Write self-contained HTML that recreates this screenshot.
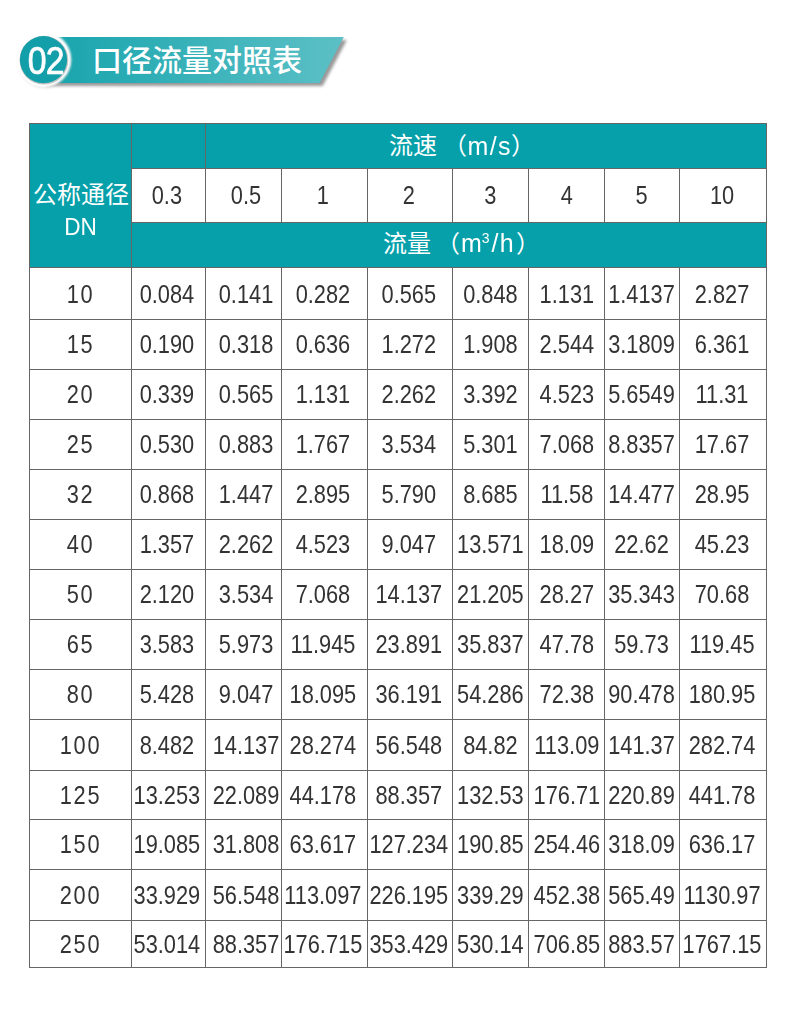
<!DOCTYPE html>
<html lang="zh"><head><meta charset="utf-8"><title>DN flow table</title>
<style>
html,body{margin:0;padding:0;background:#fff}
body{position:relative;width:790px;height:1025px;overflow:hidden;font-family:"Liberation Sans",sans-serif;color:#333}
.banner{position:absolute;left:0;top:0;width:400px;height:110px}
.banner svg.bg{position:absolute;left:0;top:0}
.num{position:absolute;left:22.7px;top:37.1px;width:46px;height:47px;line-height:47px;text-align:center;color:#fff;font-size:39px;letter-spacing:-1px}
.num span{display:inline-block;transform:scaleX(.865);-webkit-text-stroke:.7px #fff}
h1{margin:0;position:absolute;left:91.7px;top:45.2px;height:30px;line-height:0;font-size:0}
h1 svg{display:block}
table{position:absolute;left:29px;top:123px;border-collapse:collapse;table-layout:fixed;width:738px}
td,th{position:relative;border:1px solid #666;padding:0;text-align:center;vertical-align:middle;font-weight:normal;font-size:21.8px;line-height:24px;white-space:nowrap;overflow:visible}
td span,th span.n{display:inline-block;transform:scaleY(1.16);position:relative;top:.5px}
tr.r1 td span{top:1.4px}
tr.spd th span.n{top:.4px}
th.t{background:#05a0aa;color:#fff}
th svg,th .a{position:absolute;display:block}
th .a{line-height:30px;height:30px;white-space:nowrap}
.lat{font-size:25px;letter-spacing:1.4px;transform:scaleY(1.03)}
.lat sup{font-size:14px;line-height:0;vertical-align:9px;letter-spacing:0;margin:0 2px 0 -1.6px}
.dnl{font-size:22.6px;letter-spacing:0;transform:scaleY(1.08)}
svg text{font-family:"Liberation Sans","Noto Sans CJK SC",sans-serif}
.c0 span{left:-0.9px}
.c1 span{left:-1.6px}
.c2 span{left:2.5px}
.c3 span{left:-1.6px}
.c4 span{left:-1.2px}
.c5 span{left:-0.1px}
.c6 span{left:0.4px}
.c7 span{left:-0.5px}
.c8 span{left:-1.0px}
td.c0 span{letter-spacing:1.7px;left:0px}
</style></head>
<body>
<div class="banner">
<svg class="bg" width="400" height="110" viewBox="0 0 400 110">
<defs>
<linearGradient id="g" x1="0" y1="0" x2="1" y2="0"><stop offset="0" stop-color="#17a4ad"/><stop offset="1" stop-color="#5cc0c6"/></linearGradient>
<filter id="sh" x="-10%" y="-30%" width="120%" height="170%"><feGaussianBlur stdDeviation="1.6"/></filter>
<filter id="sh2" x="-30%" y="-30%" width="160%" height="160%"><feGaussianBlur stdDeviation="1.5"/></filter>
<filter id="sh4" x="-30%" y="-30%" width="160%" height="160%"><feGaussianBlur stdDeviation="0.5"/></filter>
<filter id="sh3" x="-30%" y="-30%" width="160%" height="160%"><feGaussianBlur stdDeviation="0.9"/></filter>
</defs>
<polygon points="46,40 346.8,40 322.6,86 46,86" fill="#444" opacity=".55" filter="url(#sh)"/>
<polygon points="44,37 343.8,37 319.6,83 44,83" fill="url(#g)"/>
<circle cx="44.4" cy="61.2" r="26.2" fill="#444" opacity=".3" filter="url(#sh2)"/>
<circle cx="43.5" cy="59.7" r="27.8" fill="#fff" filter="url(#sh3)"/>
<circle cx="43.9" cy="60.2" r="24.4" fill="#888" opacity=".5" filter="url(#sh4)"/>
<circle cx="43.5" cy="59.7" r="23.6" fill="#129fa9"/>
</svg>
<div class="num"><span>02</span></div>
<h1><svg width="210" height="30" viewBox="0 0 210 30" role="img" aria-label="口径流量对照表"><text x="0" y="26.4" font-size="30" font-weight="500" fill="#fff">口径流量对照表</text></svg></h1>
</div>
<table>
<colgroup><col style="width:102px"><col style="width:74px"><col style="width:76px"><col style="width:86px"><col style="width:85px"><col style="width:76px"><col style="width:76px"><col style="width:75px"><col style="width:87px"></colgroup>
<thead>
<tr style="height:45px"><th class="t dn" rowspan="3"><svg style="left:2.6px;top:57.9px" width="96" height="24" viewBox="0 0 96 24" role="img" aria-label="公称通径"><text x="0" y="21.1" font-size="24" fill="#fff">公称通径</text></svg><span class="a dnl" style="left:0px;top:88px;width:101px;text-align:center">DN</span></th><th class="t"></th><th class="t sp" colspan="7"><svg style="left:183px;top:9.3px" width="48" height="24" viewBox="0 0 48 24" role="img" aria-label="流速"><text x="0" y="21.1" font-size="24" fill="#fff">流速</text></svg><svg style="left:236.8px;top:9.3px" width="24" height="24" viewBox="0 0 24 24" role="img" aria-label="（"><text x="0" y="21.1" font-size="24" fill="#fff">（</text></svg><span class="a lat" style="left:261.5px;top:6.5px">m/s</span><svg style="left:305px;top:9.3px" width="24" height="24" viewBox="0 0 24 24" role="img" aria-label="）"><text x="0" y="21.1" font-size="24" fill="#fff">）</text></svg></th></tr>
<tr class="spd" style="height:54px"><th class="c1"><span class="n">0.3</span></th><th class="c2"><span class="n">0.5</span></th><th class="c3"><span class="n">1</span></th><th class="c4"><span class="n">2</span></th><th class="c5"><span class="n">3</span></th><th class="c6"><span class="n">4</span></th><th class="c7"><span class="n">5</span></th><th class="c8"><span class="n">10</span></th></tr>
<tr style="height:45px"><th class="t fl" colspan="8"><svg style="left:250.9px;top:7.8px" width="48" height="24" viewBox="0 0 48 24" role="img" aria-label="流量"><text x="0" y="21.1" font-size="24" fill="#fff">流量</text></svg><svg style="left:304.3px;top:7.8px" width="24" height="24" viewBox="0 0 24 24" role="img" aria-label="（"><text x="0" y="21.1" font-size="24" fill="#fff">（</text></svg><span class="a lat" style="left:329px;top:5px">m<sup>3</sup>/h</span><svg style="left:383.5px;top:7.8px" width="24" height="24" viewBox="0 0 24 24" role="img" aria-label="）"><text x="0" y="21.1" font-size="24" fill="#fff">）</text></svg></th></tr>
</thead>
<tbody>
<tr class="r1" style="height:52px"><td class="c0"><span>10</span></td><td class="c1"><span>0.084</span></td><td class="c2"><span>0.141</span></td><td class="c3"><span>0.282</span></td><td class="c4"><span>0.565</span></td><td class="c5"><span>0.848</span></td><td class="c6"><span>1.131</span></td><td class="c7"><span>1.4137</span></td><td class="c8"><span>2.827</span></td></tr>
<tr style="height:50px"><td class="c0"><span>15</span></td><td class="c1"><span>0.190</span></td><td class="c2"><span>0.318</span></td><td class="c3"><span>0.636</span></td><td class="c4"><span>1.272</span></td><td class="c5"><span>1.908</span></td><td class="c6"><span>2.544</span></td><td class="c7"><span>3.1809</span></td><td class="c8"><span>6.361</span></td></tr>
<tr style="height:50px"><td class="c0"><span>20</span></td><td class="c1"><span>0.339</span></td><td class="c2"><span>0.565</span></td><td class="c3"><span>1.131</span></td><td class="c4"><span>2.262</span></td><td class="c5"><span>3.392</span></td><td class="c6"><span>4.523</span></td><td class="c7"><span>5.6549</span></td><td class="c8"><span>11.31</span></td></tr>
<tr style="height:50px"><td class="c0"><span>25</span></td><td class="c1"><span>0.530</span></td><td class="c2"><span>0.883</span></td><td class="c3"><span>1.767</span></td><td class="c4"><span>3.534</span></td><td class="c5"><span>5.301</span></td><td class="c6"><span>7.068</span></td><td class="c7"><span>8.8357</span></td><td class="c8"><span>17.67</span></td></tr>
<tr style="height:50px"><td class="c0"><span>32</span></td><td class="c1"><span>0.868</span></td><td class="c2"><span>1.447</span></td><td class="c3"><span>2.895</span></td><td class="c4"><span>5.790</span></td><td class="c5"><span>8.685</span></td><td class="c6"><span>11.58</span></td><td class="c7"><span>14.477</span></td><td class="c8"><span>28.95</span></td></tr>
<tr style="height:50px"><td class="c0"><span>40</span></td><td class="c1"><span>1.357</span></td><td class="c2"><span>2.262</span></td><td class="c3"><span>4.523</span></td><td class="c4"><span>9.047</span></td><td class="c5"><span>13.571</span></td><td class="c6"><span>18.09</span></td><td class="c7"><span>22.62</span></td><td class="c8"><span>45.23</span></td></tr>
<tr style="height:50px"><td class="c0"><span>50</span></td><td class="c1"><span>2.120</span></td><td class="c2"><span>3.534</span></td><td class="c3"><span>7.068</span></td><td class="c4"><span>14.137</span></td><td class="c5"><span>21.205</span></td><td class="c6"><span>28.27</span></td><td class="c7"><span>35.343</span></td><td class="c8"><span>70.68</span></td></tr>
<tr style="height:50px"><td class="c0"><span>65</span></td><td class="c1"><span>3.583</span></td><td class="c2"><span>5.973</span></td><td class="c3"><span>11.945</span></td><td class="c4"><span>23.891</span></td><td class="c5"><span>35.837</span></td><td class="c6"><span>47.78</span></td><td class="c7"><span>59.73</span></td><td class="c8"><span>119.45</span></td></tr>
<tr style="height:50px"><td class="c0"><span>80</span></td><td class="c1"><span>5.428</span></td><td class="c2"><span>9.047</span></td><td class="c3"><span>18.095</span></td><td class="c4"><span>36.191</span></td><td class="c5"><span>54.286</span></td><td class="c6"><span>72.38</span></td><td class="c7"><span>90.478</span></td><td class="c8"><span>180.95</span></td></tr>
<tr style="height:51px"><td class="c0"><span>100</span></td><td class="c1"><span>8.482</span></td><td class="c2"><span>14.137</span></td><td class="c3"><span>28.274</span></td><td class="c4"><span>56.548</span></td><td class="c5"><span>84.82</span></td><td class="c6"><span>113.09</span></td><td class="c7"><span>141.37</span></td><td class="c8"><span>282.74</span></td></tr>
<tr style="height:49px"><td class="c0"><span>125</span></td><td class="c1"><span>13.253</span></td><td class="c2"><span>22.089</span></td><td class="c3"><span>44.178</span></td><td class="c4"><span>88.357</span></td><td class="c5"><span>132.53</span></td><td class="c6"><span>176.71</span></td><td class="c7"><span>220.89</span></td><td class="c8"><span>441.78</span></td></tr>
<tr style="height:50px"><td class="c0"><span>150</span></td><td class="c1"><span>19.085</span></td><td class="c2"><span>31.808</span></td><td class="c3"><span>63.617</span></td><td class="c4"><span>127.234</span></td><td class="c5"><span>190.85</span></td><td class="c6"><span>254.46</span></td><td class="c7"><span>318.09</span></td><td class="c8"><span>636.17</span></td></tr>
<tr style="height:51px"><td class="c0"><span>200</span></td><td class="c1"><span>33.929</span></td><td class="c2"><span>56.548</span></td><td class="c3"><span>113.097</span></td><td class="c4"><span>226.195</span></td><td class="c5"><span>339.29</span></td><td class="c6"><span>452.38</span></td><td class="c7"><span>565.49</span></td><td class="c8"><span>1130.97</span></td></tr>
<tr style="height:47px"><td class="c0"><span>250</span></td><td class="c1"><span>53.014</span></td><td class="c2"><span>88.357</span></td><td class="c3"><span>176.715</span></td><td class="c4"><span>353.429</span></td><td class="c5"><span>530.14</span></td><td class="c6"><span>706.85</span></td><td class="c7"><span>883.57</span></td><td class="c8"><span>1767.15</span></td></tr>
</tbody>
</table>
</body></html>
